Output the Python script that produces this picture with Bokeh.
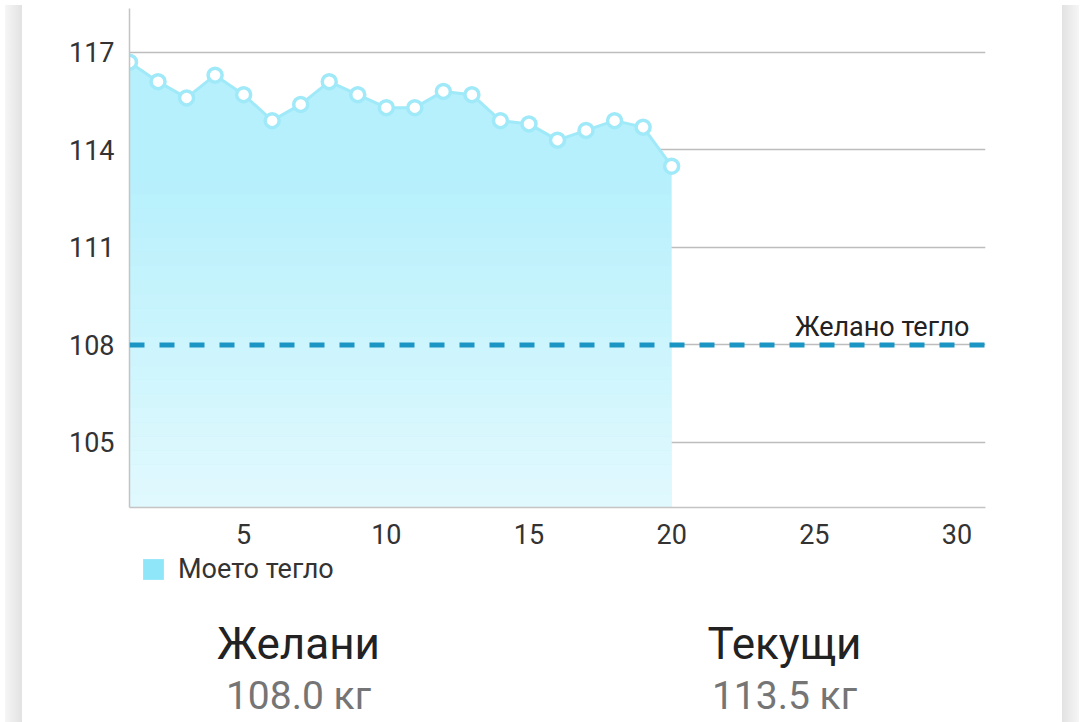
from bokeh.core.properties import value
from bokeh.embed import file_html
from bokeh.layouts import column, row
from bokeh.models import ColumnDataSource, Div, Label, Legend, LegendItem, Range1d, Span
from bokeh.plotting import figure
from bokeh.resources import INLINE

FONT = "Roboto"

# weight per day of the month
days = list(range(1, 21))
weight = [116.7, 116.1, 115.6, 116.3, 115.7, 114.9, 115.4, 116.1, 115.7, 115.3,
          115.3, 115.8, 115.7, 114.9, 114.8, 114.3, 114.6, 114.9, 114.7, 113.5]
target = 108.0
current = 113.5

y_ticks = [105, 108, 111, 114, 117]
x_ticks = [5, 10, 15, 20, 25, 30]

series_label = "Моето тегло"
target_label = "Желано тегло"
goal_title = "Желани"
current_title = "Текущи"
unit = "кг"

X0, X1 = 1, 31
Y0, Y1 = 103, 118.35
W = 1030
LEFT, RIGHT, TOP, BOTTOM = 102, 72, 8, 46
H = TOP + 499 + BOTTOM

p = figure(width=W, height=H, x_range=(X0, X1), y_range=(Y0, Y1),
           output_backend="svg", toolbar_location=None,
           min_border_left=LEFT, min_border_right=RIGHT,
           min_border_top=TOP, min_border_bottom=BOTTOM)
p.outline_line_color = None
p.background_fill_color = "white"
p.border_fill_color = "white"

# axes
p.xaxis.ticker = x_ticks
p.yaxis.ticker = y_ticks
for ax in (p.xaxis, p.yaxis):
    ax.axis_line_color = "#c4c4c4"
    ax.axis_line_width = 1.5
    ax.major_tick_line_color = None
    ax.minor_tick_line_color = None
    ax.major_label_text_font = FONT
    ax.major_label_text_font_size = "27px"
    ax.major_label_text_color = "#333333"
p.yaxis.major_label_standoff = 9
p.xaxis.major_label_standoff = 10
p.xgrid.grid_line_color = None
p.ygrid.grid_line_color = "#bdbdbd"
p.ygrid.grid_line_width = 1.5

src = ColumnDataSource(data=dict(x=days, y=weight))

area = p.varea(x="x", y1=Y0, y2="y", source=src, fill_color="#b5f0fc")

# fake vertical gradient: white bands getting denser toward the bottom
n = 24
top_band = min(weight)
for i in range(n):
    b = Y0 + (top_band - Y0) * i / n
    t = Y0 + (top_band - Y0) * (i + 1) / n
    p.quad(left=min(days), right=max(days), bottom=b, top=t,
           fill_color="white", fill_alpha=0.6 * (1 - (i + 0.5) / n), line_color=None)

p.line(x="x", y="y", source=src, line_color="#a0e9f9", line_width=3)
p.scatter(x="x", y="y", source=src, size=14, fill_color="white",
          line_color="#a0e9f9", line_width=3.5)

# target weight
p.add_layout(Span(location=target, dimension="width", line_color="#1b95c4",
                  line_width=5, line_dash="15 15"))
p.add_layout(Label(x=X1, y=target, x_offset=-16, y_offset=18, text=target_label,
                   text_align="right", text_baseline="alphabetic", text_font=FONT,
                   text_font_size="27px", text_color="#222222"))

# legend + summary block under the chart (x in page-like pixels, y downwards)
H2 = 169
s = figure(width=W, height=H2, x_range=Range1d(129, 985), y_range=Range1d(H2, 0),
           output_backend="svg", toolbar_location=None,
           min_border_left=LEFT, min_border_right=RIGHT,
           min_border_top=0, min_border_bottom=0,
           x_axis_type=None, y_axis_type=None)
s.outline_line_color = None
s.grid.grid_line_color = None

# renderer kept out of view, only used for the legend swatch
swatch = s.varea(x=[0, 1], y1=[-20, -20], y2=[-10, -10], fill_color="#8fe6f8")
legend = Legend(items=[LegendItem(label=series_label, renderers=[swatch])],
                location=(11, 137), orientation="horizontal",
                glyph_width=26, glyph_height=26, label_standoff=12,
                label_text_font=FONT, label_text_font_size="27px",
                label_text_color="#333333", border_line_color=None,
                background_fill_alpha=0, padding=0, margin=0)
s.add_layout(legend, "center")

centers = [298, 784]
titles = [goal_title, current_title]
values = [f"{target:.1f} {unit}", f"{current:.1f} {unit}"]
s.text(x=centers, y=[90, 90], text=titles, text_align="center",
       text_baseline="alphabetic", text_font=value(FONT),
       text_font_size="44px", text_color="#222222")
s.text(x=centers, y=[142, 142], text=values, text_align="center",
       text_baseline="alphabetic", text_font=value(FONT),
       text_font_size="39px", text_color="#757575")

side_l = Div(width=17, height=H + H2, styles={
    "background": "linear-gradient(to right, #f6f6f6, #e2e2e2)"})
side_r = Div(width=17, height=H + H2, styles={
    "background": "linear-gradient(to left, #f6f6f6, #e2e2e2)"})

layout = row(side_l, column(p, s), side_r)

open("out.html", "w").write(file_html(layout, INLINE))
